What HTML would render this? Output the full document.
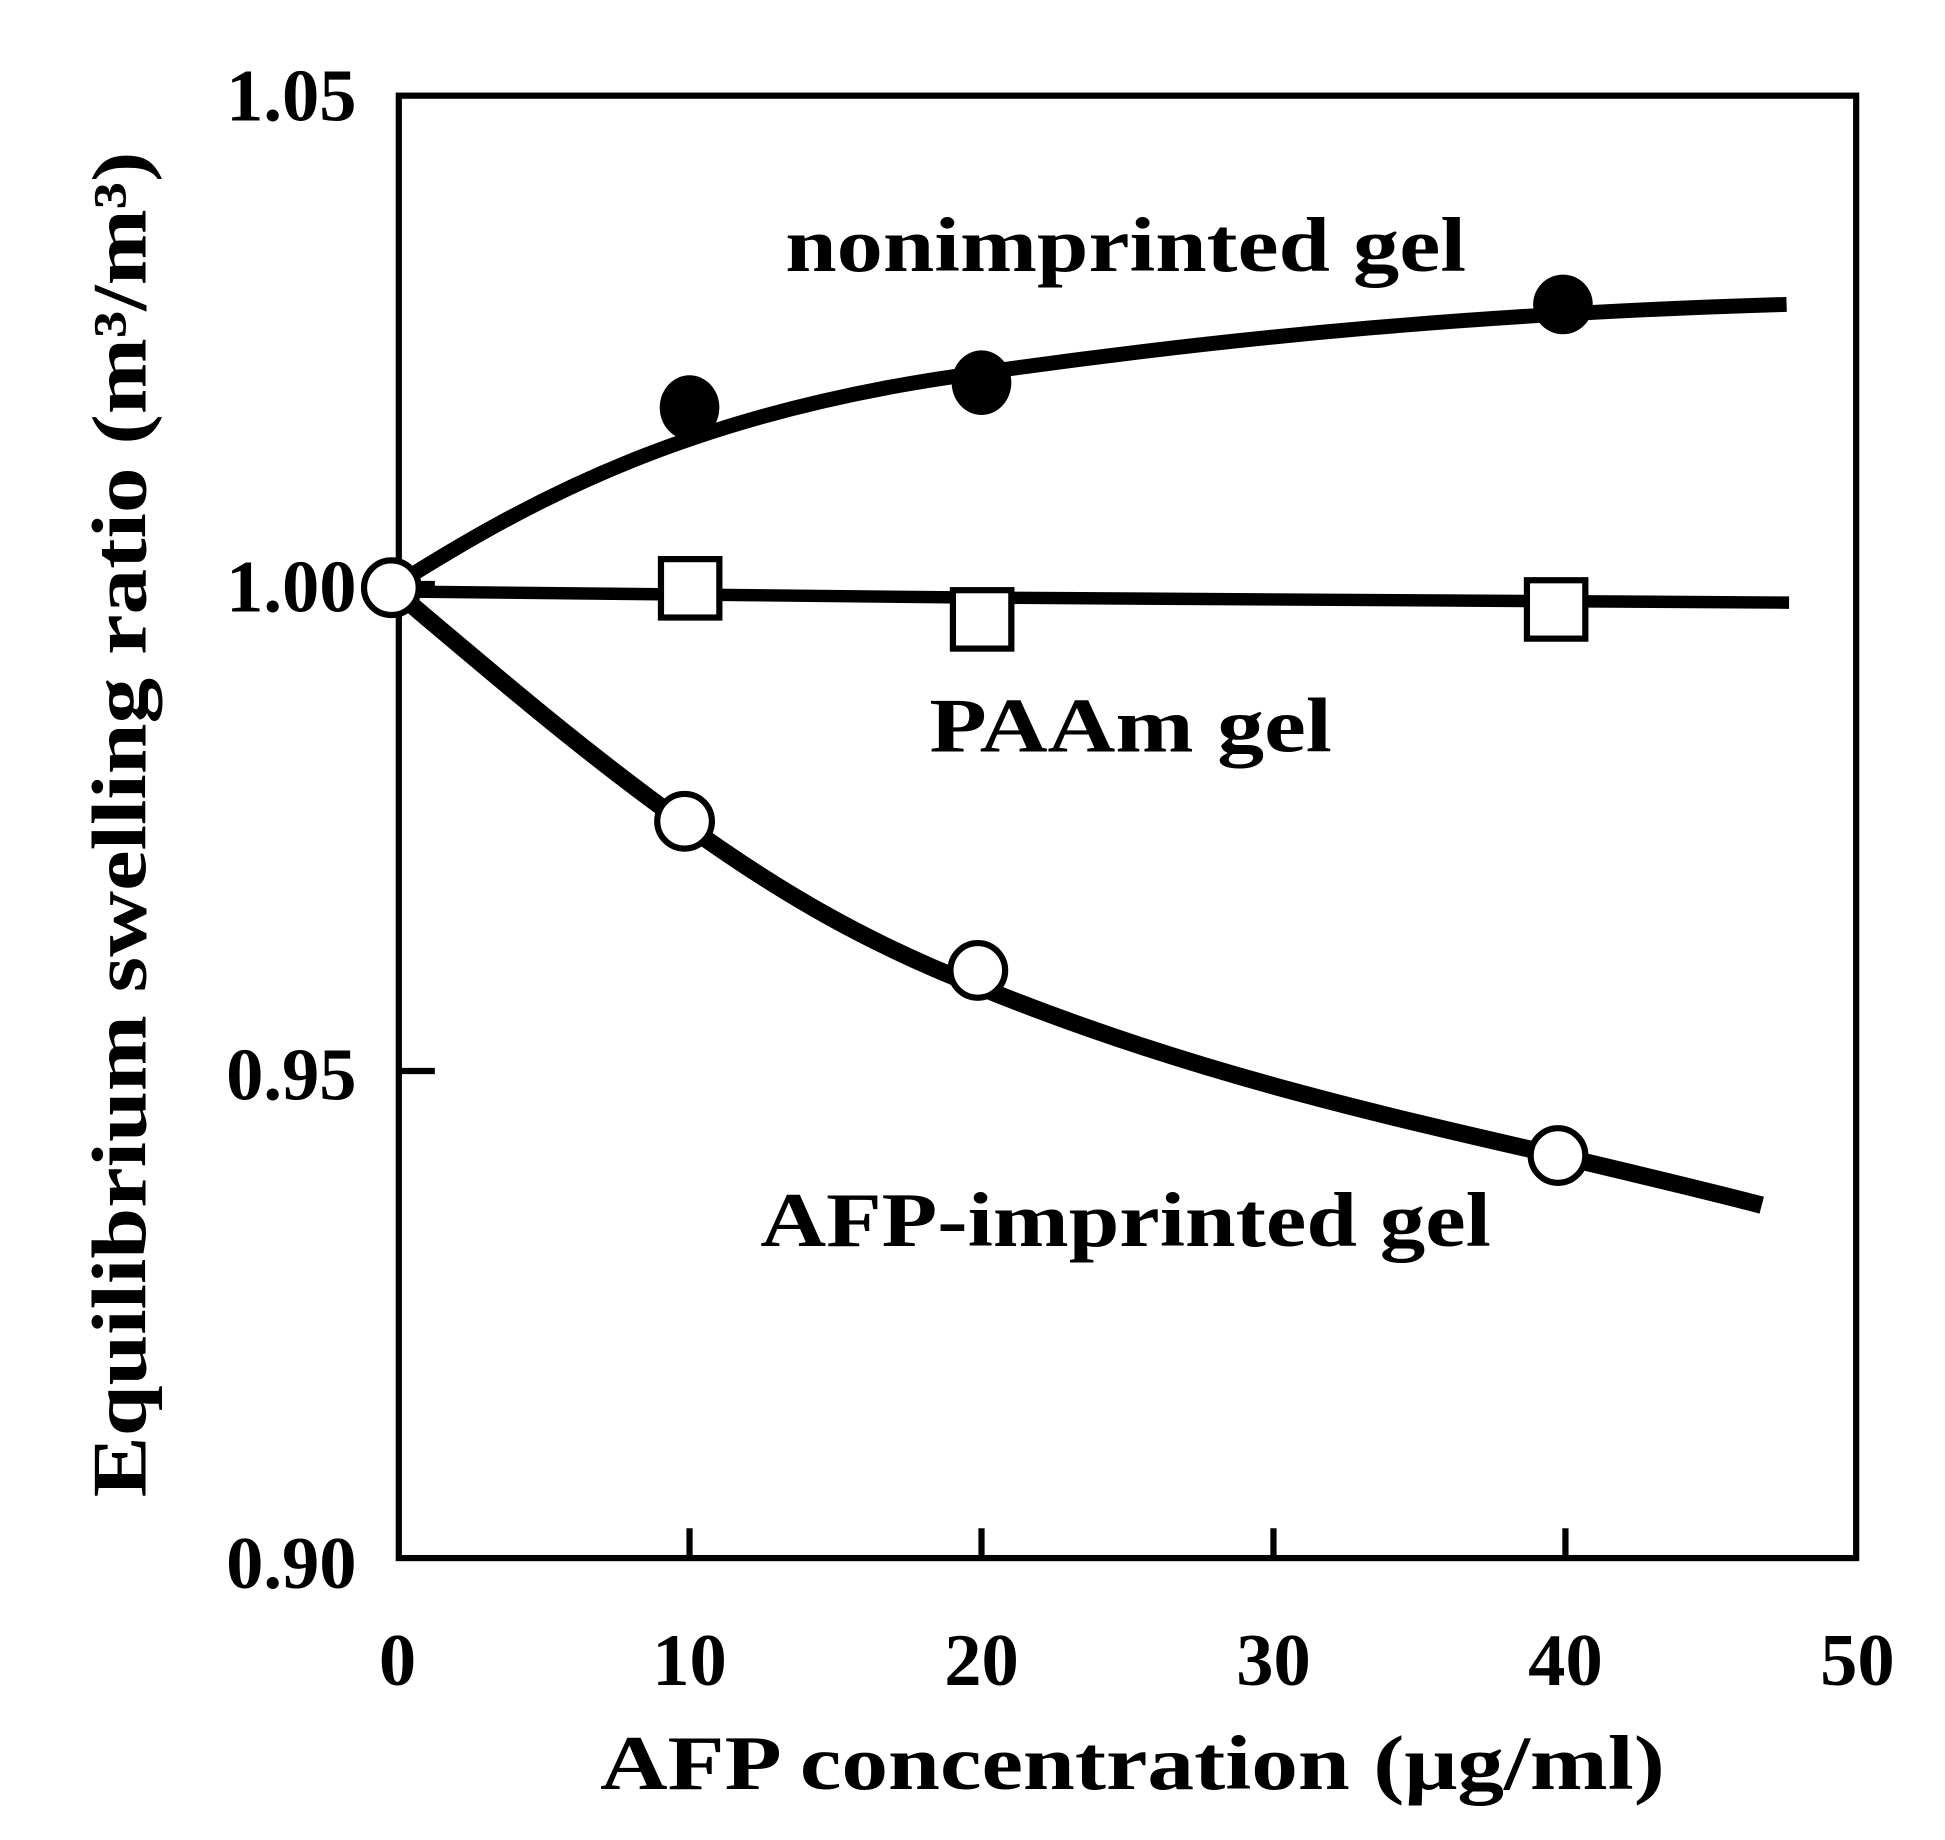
<!DOCTYPE html>
<html><head><meta charset="utf-8"><style>
html,body{margin:0;padding:0;background:#fff;}
svg{display:block;}
text{font-family:"Liberation Serif",serif;font-weight:bold;fill:#000;}
</style></head><body>
<svg width="1945" height="1840" viewBox="0 0 1565.5 1480.9" preserveAspectRatio="none" xmlns="http://www.w3.org/2000/svg">
<rect x="0" y="0" width="1566" height="1481" fill="#fff"/>
<rect x="321" y="77" width="1173" height="1177" fill="none" stroke="#000" stroke-width="5"/>
<g stroke="#000" stroke-width="5">
<line x1="555" y1="1254" x2="555" y2="1230"/>
<line x1="790" y1="1254" x2="790" y2="1230"/>
<line x1="1025" y1="1254" x2="1025" y2="1230"/>
<line x1="1260" y1="1254" x2="1260" y2="1230"/>
<line x1="321" y1="862" x2="350" y2="862"/>
<line x1="321" y1="470" x2="350" y2="470"/>
</g>
<g font-size="60" text-anchor="end">
<text x="287" y="97">1.05</text>
<text x="287" y="492">1.00</text>
<text x="287" y="885">0.95</text>
<text x="287" y="1278">0.90</text>
</g>
<g font-size="60" text-anchor="middle">
<text x="320" y="1356">0</text>
<text x="555" y="1356">10</text>
<text x="790" y="1356">20</text>
<text x="1025" y="1356">30</text>
<text x="1260" y="1356">40</text>
<text x="1495" y="1356">50</text>
</g>
<text x="483" y="1440" font-size="62" textLength="857" lengthAdjust="spacingAndGlyphs">AFP concentration (μg/ml)</text>
<text transform="translate(117,1205) rotate(-90)" x="0" y="0" font-size="62" textLength="1083" lengthAdjust="spacingAndGlyphs">Equilibrium swelling ratio (m³/m³)</text>
<text x="632" y="218" font-size="62" textLength="548" lengthAdjust="spacingAndGlyphs">nonimprinted gel</text>
<text x="748" y="605" font-size="62" textLength="324" lengthAdjust="spacingAndGlyphs">PAAm gel</text>
<text x="612" y="1003" font-size="62" textLength="588" lengthAdjust="spacingAndGlyphs">AFP-imprinted gel</text>
<g fill="none" stroke="#000" stroke-linecap="butt">
<path d="M315,473 C430,400 560,330 790,300 C1000,270 1200,252 1438,245" stroke-width="12"/>
<path d="M315,476 C420,478 600,480 790,481 L1440,485" stroke-width="10"/>
<path d="M315,473 C400,545 470,605 551,663 C630,720 700,760 790,795 C950,860 1100,895 1254,930 C1330,948 1380,960 1418,970" stroke-width="14"/>
</g>
<g fill="#000">
<ellipse cx="555" cy="328" rx="24" ry="26"/>
<ellipse cx="790" cy="308" rx="24" ry="26"/>
<ellipse cx="1258" cy="245" rx="24" ry="24"/>
</g>
<g fill="#fff" stroke="#000" stroke-width="5">
<rect x="532" y="450" width="47" height="47"/>
<rect x="767" y="475" width="47" height="47"/>
<rect x="1229" y="467" width="47" height="47"/>
<circle cx="315" cy="473" r="22"/>
<circle cx="551" cy="661" r="22"/>
<circle cx="787" cy="781" r="22"/>
<circle cx="1254" cy="930" r="22"/>
</g>
</svg>
</body></html>
